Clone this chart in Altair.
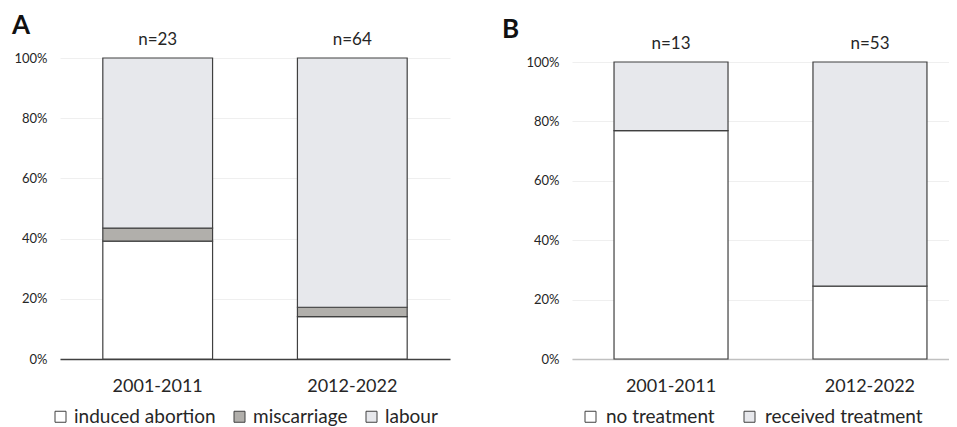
import altair as alt
import pandas as pd

# ---- data ----
periods = ["2001-2011", "2012-2022"]

a_groups = ["induced abortion", "miscarriage", "labour"]
a_induced = [9, 9]
a_miscarriage = [1, 2]
a_labour = [13, 53]
a_n = [23, 64]
a_colors = ["#ffffff", "#b1afab", "#e7e8ec"]

b_groups = ["no treatment", "received treatment"]
b_none = [10, 13]
b_treated = [3, 40]
b_n = [13, 53]
b_colors = ["#ffffff", "#e7e8ec"]

y_ticks = [0, 0.2, 0.4, 0.6, 0.8, 1.0]

FONT = "Lato"
STROKE = "#404040"
TEXT = "#262626"


def long_table(groups, series):
    rows = []
    for k, (g, vals) in enumerate(zip(groups, series)):
        for p, v in zip(periods, vals):
            rows.append({"period": p, "group": g, "count": v, "k": k})
    return pd.DataFrame(rows)


def n_table(ns):
    return pd.DataFrame({"period": periods, "label": [f"n={n}" for n in ns]})


def panel(df, ndf, groups, colors, title, width, xscale, yscale,
          domain_color, legend_x, legend_y, col_pad, label_off, title_dx):
    bars = alt.Chart(df).mark_bar(stroke=STROKE, strokeWidth=1.2).encode(
        x=alt.X("period:N", scale=xscale, sort=periods,
                axis=alt.Axis(title=None, labelAngle=0, ticks=False,
                              domainColor=domain_color, domainWidth=1.5,
                              labelFontSize=18, labelFont=FONT,
                              labelColor=TEXT, labelPadding=18, grid=False)),
        y=alt.Y("count:Q", stack="normalize", scale=yscale,
                axis=alt.Axis(title=None, format=".0%", values=y_ticks,
                              ticks=False, domain=False, gridColor="#efefef",
                              labelFontSize=13, labelFont=FONT,
                              labelColor=TEXT, labelPadding=13,
                              minExtent=48, maxExtent=48)),
        color=alt.Color("group:N",
                        scale=alt.Scale(domain=groups, range=colors),
                        legend=alt.Legend(
                            title=None, orient="none", legendX=legend_x,
                            legendY=legend_y, direction="horizontal",
                            columns=len(groups), symbolType="square",
                            symbolSize=121, symbolStrokeColor=STROKE,
                            symbolStrokeWidth=1, labelFontSize=19,
                            labelFont=FONT, labelColor=TEXT,
                            labelOffset=label_off,
                            columnPadding=col_pad, labelLimit=400)),
        order=alt.Order("k:Q", sort="ascending"),
    )
    text = alt.Chart(ndf).mark_text(
        baseline="alphabetic", dy=-13, fontSize=17, font=FONT, color=TEXT
    ).encode(
        x=alt.X("period:N", sort=periods),
        y=alt.datum(1),
        text="label:N",
    )
    return alt.layer(bars, text).properties(
        width=width, height=301,
        title=alt.Title(title, anchor="start", frame="bounds", dx=title_dx,
                        fontSize=26, fontWeight="bold", font=FONT,
                        color="#111111", offset=-8),
    )


a_df = long_table(a_groups, [a_induced, a_miscarriage, a_labour])
b_df = long_table(b_groups, [b_none, b_treated])

chart_a = panel(
    a_df, n_table(a_n), a_groups, a_colors, "A", 390,
    alt.Scale(paddingInner=0.436, paddingOuter=0.22),
    alt.Scale(domain=[0, 1]),
    STROKE, -9, 349, 14, 4, 0,
)
chart_b = panel(
    b_df, n_table(b_n), b_groups, b_colors, "B", 377,
    alt.Scale(paddingInner=0.427, paddingOuter=0.161, align=0.656),
    alt.Scale(domain=[0, 1], range=[301, 4]),
    "#c0c0c0", 9, 349, 25, 6, -22,
)

chart = alt.hconcat(chart_a, chart_b, spacing=52).resolve_scale(
    color="independent", x="independent", y="independent"
).resolve_legend(color="independent").configure(
    padding={"left": 4, "top": 5, "right": 0, "bottom": 0},
).configure_view(stroke=None)

chart.save("out.html", embed_options={"renderer": "svg", "actions": False})
